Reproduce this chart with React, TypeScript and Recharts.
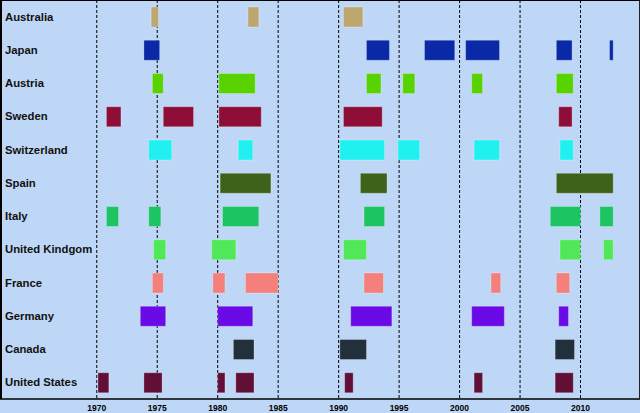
import React from "react";
import { BarChart, Bar, XAxis, YAxis, CartesianGrid, Cell } from "recharts";

const countries = [
  "Australia", "Japan", "Austria", "Sweden", "Switzerland", "Spain",
  "Italy", "United Kindgom", "France", "Germany", "Canada", "United States",
];

const australia = [[1974.5, 1975.1], [1982.5, 1983.4], [1990.4, 1992.0]];
const japan = [[1973.9, 1975.2], [1992.3, 1994.2], [1997.1, 1999.6], [2000.5, 2003.3], [2008.0, 2009.3], [2012.4, 2012.7]];
const austria = [[1974.6, 1975.5], [1980.1, 1983.1], [1992.3, 1993.5], [1995.3, 1996.3], [2001.0, 2001.9], [2008.0, 2009.4]];
const sweden = [[1970.8, 1972.0], [1975.5, 1978.0], [1980.1, 1983.6], [1990.4, 1993.6], [2008.2, 2009.3]];
const switzerland = [[1974.3, 1976.2], [1981.7, 1982.9], [1990.1, 1993.8], [1994.9, 1996.7], [2001.2, 2003.3], [2008.3, 2009.4]];
const spain = [[1980.2, 1984.4], [1991.8, 1994.0], [2008.0, 2012.7]];
const italy = [[1970.8, 1971.8], [1974.3, 1975.3], [1980.4, 1983.4], [1992.1, 1993.8], [2007.5, 2010.0], [2011.6, 2012.7]];
const unitedKingdom = [[1974.7, 1975.7], [1979.5, 1981.5], [1990.4, 1992.3], [2008.3, 2010.0], [2011.9, 2012.7]];
const france = [[1974.6, 1975.5], [1979.6, 1980.6], [1982.3, 1985.0], [1992.1, 1993.7], [2002.6, 2003.4], [2008.0, 2009.1]];
const germany = [[1973.6, 1975.7], [1980.0, 1982.9], [1991.0, 1994.4], [2001.0, 2003.7], [2008.2, 2009.0]];
const canada = [[1981.3, 1983.0], [1990.1, 1992.3], [2007.9, 2009.5]];
const unitedStates = [[1970.1, 1971.0], [1973.9, 1975.4], [1980.0, 1980.6], [1981.5, 1983.0], [1990.5, 1991.2], [2001.2, 2001.9], [2007.9, 2009.4]];

const periods = [australia, japan, austria, sweden, switzerland, spain, italy, unitedKingdom, france, germany, canada, unitedStates];

const colors = [
  "#BEA66F", "#0A29A6", "#58D300", "#8E0E38", "#20F0F0", "#3F621B",
  "#1CC462", "#50E858", "#F47F7B", "#6A0AE6", "#22303B", "#620F38",
];

const yearTicks = [1970, 1975, 1980, 1985, 1990, 1995, 2000, 2005, 2010];

const MAX_SERIES = 7;
const seriesKeys = Array.from({ length: MAX_SERIES }, (_, i) => `s${i}`);

const data = countries.map((name, ci) => {
  const row: any = { name };
  periods[ci].forEach((p, i) => {
    row[`s${i}`] = p;
  });
  return row;
});

const YTick = (props: any) => {
  const { y, payload } = props;
  return (
    <text x={5} y={y} dy={4} textAnchor="start" fontFamily="Arial, 'Liberation Sans', sans-serif" fontWeight="bold" fontSize={11.3} fill="#111">
      {payload.value}
    </text>
  );
};

const XTick = (props: any) => {
  const { x, y, payload } = props;
  return (
    <text x={x} y={y} dy={12} textAnchor="middle" fontFamily="Arial, 'Liberation Sans', sans-serif" fontWeight="bold" fontSize={8.5} fill="#000">
      {payload.value}
    </text>
  );
};

export default function App() {
  return (
    <div style={{ position: "fixed", left: 0, top: 0, width: 640, height: 413, background: "#BFD7F6", overflow: "hidden" }}>
      <BarChart
        width={641}
        height={413}
        data={data}
        layout="vertical"
        margin={{ top: 0, right: 0, bottom: 0, left: -1 }}
        barSize={20}
        barGap={-20}
        style={{ overflow: "visible" }}
      >
        <CartesianGrid horizontal={false} vertical={true} stroke="#000" strokeDasharray="3 2" />
        <XAxis
          type="number"
          domain={[1962, 2015]}
          ticks={yearTicks}
          allowDataOverflow
          height={14}
          tickLine={false}
          tickSize={0}
          tickMargin={0}
          axisLine={{ stroke: "#000", strokeWidth: 1.5 }}
          tick={<XTick />}
          interval={0}
        />
        <YAxis
          type="category"
          dataKey="name"
          width={1}
          tickLine={false}
          tickSize={0}
          axisLine={false}
          tick={<YTick />}
          interval={0}
        />
        {seriesKeys.map((k) => (
          <Bar key={k} dataKey={k} isAnimationActive={false} stroke="rgba(255,255,255,0.25)" strokeWidth={1}>
            {data.map((_, i) => (
              <Cell key={i} fill={colors[i]} />
            ))}
          </Bar>
        ))}
      </BarChart>
      <div style={{ position: "absolute", left: 0, top: 0, width: 640, height: 399, boxSizing: "border-box", borderTop: "1px solid #000", borderLeft: "2px solid #000", borderRight: "1px solid #222", pointerEvents: "none" }} />
    </div>
  );
}
